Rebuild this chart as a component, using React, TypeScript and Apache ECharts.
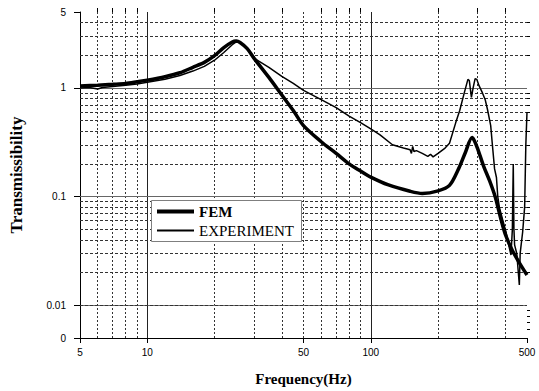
import React, { useEffect, useRef } from "react";
import * as echarts from "echarts";

// FEM curve (frequency Hz, transmissibility)
const femFreq = [5, 6, 7, 8, 9, 10, 12, 14, 16, 18, 20, 22, 24, 25, 26, 28, 30, 35, 40, 45, 50, 60, 70, 80, 90, 100, 120, 150, 170, 200, 225, 247, 265, 284, 290, 300, 320, 340, 360, 380, 400, 430, 460, 500];
const femVal = [1.04, 1.06, 1.08, 1.1, 1.14, 1.18, 1.27, 1.38, 1.55, 1.72, 1.98, 2.35, 2.65, 2.7, 2.62, 2.3, 1.88, 1.25, 0.86, 0.62, 0.45, 0.32, 0.25, 0.2, 0.172, 0.151, 0.128, 0.112, 0.107, 0.113, 0.127, 0.18, 0.255, 0.35, 0.33, 0.28, 0.19, 0.14, 0.1, 0.065, 0.045, 0.032, 0.025, 0.019];

// EXPERIMENT curve
const expFreq = [5, 5.5, 6, 6.3, 7, 8, 9, 10, 12, 14, 16, 18, 20, 22, 24, 25, 26, 28, 30, 35, 40, 45, 50, 60, 70, 80, 90, 100, 110, 125, 140, 150, 152, 154, 156, 160, 170, 180, 185, 190, 200, 215, 225, 240, 250, 262, 272, 276, 282, 287, 293, 298, 305, 316, 325, 333, 344, 350, 358, 365, 370, 376, 390, 403, 415, 424, 430, 434, 437, 440, 450, 462, 466, 470, 478, 488, 494, 500];
const expVal = [1.0, 1.01, 0.98, 1.01, 1.03, 1.06, 1.09, 1.13, 1.2, 1.3, 1.43, 1.58, 1.8, 2.12, 2.5, 2.65, 2.62, 2.32, 1.88, 1.55, 1.28, 1.1, 0.95, 0.78, 0.66, 0.55, 0.48, 0.42, 0.37, 0.3, 0.28, 0.27, 0.25, 0.29, 0.26, 0.265, 0.25, 0.235, 0.245, 0.232, 0.25, 0.28, 0.31, 0.48, 0.62, 0.9, 1.2, 1.17, 0.82, 1.0, 1.22, 1.2, 1.05, 0.9, 0.78, 0.63, 0.45, 0.3, 0.18, 0.15, 0.1, 0.08, 0.06, 0.047, 0.035, 0.029, 0.05, 0.2, 0.05, 0.036, 0.03, 0.0154, 0.03, 0.035, 0.047, 0.08, 0.3, 0.6];

// Axes
const xMin = 5;
const xMax = 500;
const yMin = 0.005;
const yMax = 5;
const xLabelValues = [5, 10, 50, 100, 500];
const xMinorTicks = [6, 7, 8, 9, 20, 30, 40, 60, 70, 80, 90, 200, 300, 400];
const xMajorGrid = [10, 100];
const xMinorGrid = [6, 7, 8, 9, 20, 30, 40, 50, 60, 70, 80, 90, 200, 300, 400];
const yLabelValues = [0.005, 0.01, 0.1, 1, 5];
const yMajorGrid = [0.01, 0.1, 1];
const yMinorGrid = [0.006, 0.007, 0.008, 0.009, 0.02, 0.03, 0.04, 0.05, 0.06, 0.07, 0.08, 0.09, 0.2, 0.3, 0.4, 0.5, 0.6, 0.7, 0.8, 0.9, 2, 3, 4];

const seriesNames = ["FEM", "EXPERIMENT"];

export default function App() {
  const ref = useRef<HTMLDivElement>(null);

  useEffect(() => {
    if (!ref.current) return;
    const chart = echarts.init(ref.current, null, { renderer: "svg" });

    const femData = femFreq.map((f, i) => [f, femVal[i]]);
    const expData = expFreq.map((f, i) => [f, expVal[i]]);

    const minorLine = { color: "#333", width: 1, type: [3, 2] as any };
    const majorLine = { color: "#666", width: 1, type: "solid" as any };

    const gridLines = [
      ...xMajorGrid.map((v) => ({ xAxis: v, lineStyle: { ...majorLine, color: "#222" } })),
      ...xMinorGrid.map((v) => ({ xAxis: v, lineStyle: { ...minorLine, type: [2, 2] } })),
      ...yMajorGrid.map((v) => ({ yAxis: v, lineStyle: majorLine })),
      ...yMinorGrid.map((v) => ({ yAxis: v, lineStyle: minorLine })),
    ];

    const labelFont = { fontFamily: "Liberation Sans, Arial, sans-serif", fontSize: 10, color: "#000" };
    const serif = "Liberation Serif, Times New Roman, serif";
    const nameFontX = { fontFamily: serif, fontSize: 15, fontWeight: "bold" as any, color: "#000" };
    const nameFontY = { fontFamily: serif, fontSize: 17, fontWeight: "bold" as any, color: "#000" };

    const baseX = { type: "log" as const, logBase: 10, min: xMin, max: xMax, gridIndex: 0 };
    const baseY = { type: "log" as const, logBase: 10, min: yMin, max: yMax, gridIndex: 0 };

    const legendBase = {
      orient: "vertical",
      left: 157,
      padding: 0,
      itemWidth: 37,
      icon: "rect",
      selectedMode: false,
      textStyle: { fontFamily: serif, fontSize: 15, color: "#000" },
    };

    chart.setOption({
      animation: false,
      backgroundColor: "#fff",
      grid: { left: 80, right: 12, top: 12, bottom: 51, containLabel: false },
      graphic: [
        {
          type: "rect",
          z: 2,
          silent: true,
          shape: { x: 151.5, y: 200.5, width: 150, height: 41 },
          style: { fill: "#fff", stroke: "#7f7f7f", lineWidth: 1 },
        },
      ],
      legend: [
        {
          ...legendBase,
          top: 204,
          itemHeight: 4,
          data: [{ name: seriesNames[0], textStyle: { fontWeight: "bold" } }],
        },
        {
          ...legendBase,
          top: 223,
          itemHeight: 2,
          data: [{ name: seriesNames[1], textStyle: { fontWeight: "normal" } }],
        },
      ],
      xAxis: [
        {
          ...baseX,
          name: "Frequency(Hz)",
          nameLocation: "middle",
          nameGap: 33,
          nameTextStyle: nameFontX,
          axisLine: { show: true, lineStyle: { color: "#000", width: 1 } },
          axisTick: { show: true, length: 5, customValues: xLabelValues, lineStyle: { color: "#000" } },
          axisLabel: { show: true, customValues: xLabelValues, margin: 9, ...labelFont, formatter: (v: number) => String(Math.round(v)) },
          splitLine: { show: false },
          minorTick: { show: false },
        },
        {
          ...baseX,
          axisLine: { show: false },
          axisTick: { show: true, length: 4, customValues: xMinorTicks, lineStyle: { color: "#000" } },
          axisLabel: { show: false },
          splitLine: { show: false },
        },
      ],
      yAxis: [
        {
          ...baseY,
          name: "Transmissibility",
          nameLocation: "middle",
          nameGap: 55,
          nameTextStyle: nameFontY,
          axisLine: { show: true, lineStyle: { color: "#000", width: 1 } },
          axisTick: { show: true, length: 6, customValues: yLabelValues, lineStyle: { color: "#000" } },
          axisLabel: {
            show: true,
            customValues: yLabelValues,
            margin: 14,
            ...labelFont,
            formatter: (v: number) => (v < 0.0075 ? "0" : String(+v.toPrecision(3))),
          },
          splitLine: { show: false },
        },
        {
          ...baseY,
          axisLine: { show: false },
          axisTick: { show: true, length: 3, customValues: yMinorGrid, lineStyle: { color: "#000" } },
          axisLabel: { show: false },
          splitLine: { show: false },
        },
      ],
      series: [
        {
          name: seriesNames[0],
          type: "line",
          xAxisIndex: 0,
          yAxisIndex: 0,
          data: femData,
          symbol: "none",
          smooth: 0.3,
          lineStyle: { color: "#000", width: 3.5 },
          itemStyle: { color: "#000" },
          z: 3,
        },
        {
          name: seriesNames[1],
          type: "line",
          xAxisIndex: 0,
          yAxisIndex: 0,
          data: expData,
          symbol: "none",
          lineStyle: { color: "#000", width: 1.5 },
          itemStyle: { color: "#000" },
          z: 3,
          markLine: {
            silent: true,
            z: 1,
            symbol: ["none", "none"],
            label: { show: false },
            animation: false,
            data: gridLines,
          },
        },
      ],
    });

    return () => chart.dispose();
  }, []);

  return (
    <div
      ref={ref}
      style={{ position: "fixed", left: 0, top: 0, width: 539, height: 391, background: "#fff" }}
    />
  );
}
